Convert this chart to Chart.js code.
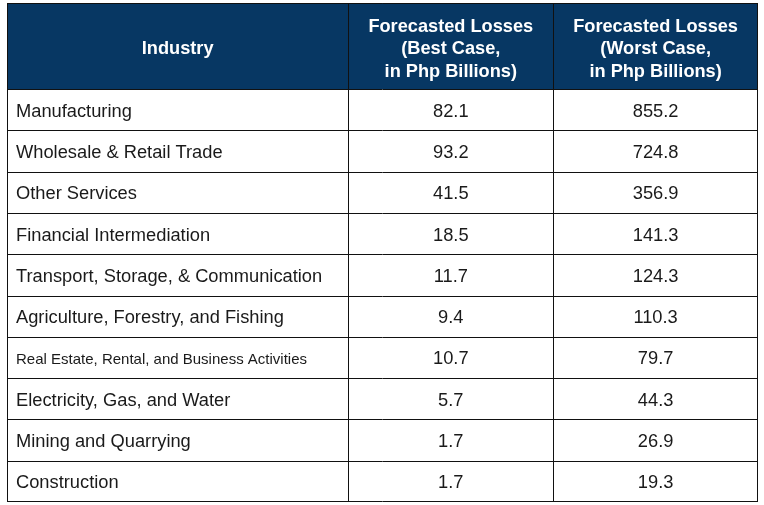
<!DOCTYPE html>
<html>
<head>
<meta charset="utf-8">
<script src="https://cdn.jsdelivr.net/npm/chart.js@4.4.1/dist/chart.umd.min.js"></script>
<style>
  html, body { margin: 0; padding: 0; background: #fff; }
  #wrap { width: 764px; height: 505px; }
</style>
</head>
<body>
<div id="wrap"><canvas id="lossTable"></canvas></div>
<script>
const industries = [
    'Manufacturing',
    'Wholesale & Retail Trade',
    'Other Services',
    'Financial Intermediation',
    'Transport, Storage, & Communication',
    'Agriculture, Forestry, and Fishing',
    'Real Estate, Rental, and Business Activities',
    'Electricity, Gas, and Water',
    'Mining and Quarrying',
    'Construction'
];
const bestCase = [82.1, 93.2, 41.5, 18.5, 11.7, 9.4, 10.7, 5.7, 1.7, 1.7];
const worstCase = [855.2, 724.8, 356.9, 141.3, 124.3, 110.3, 79.7, 44.3, 26.9, 19.3];
const columnHeaders = [
    ['Industry'],
    ['Forecasted Losses', '(Best Case,', 'in Php Billions)'],
    ['Forecasted Losses', '(Worst Case,', 'in Php Billions)']
];

// column edges in x-scale units, first column is wider
const colEdges = [0, 5, 8, 11];
const HEADER_H = 86;
const FONT = "'Liberation Sans', Arial, sans-serif";
const LINE = '#111';

function crisp(v) {
    return Math.round(v) + 0.5;
}

const tablePlugin = {
    id: 'tableCells',
    afterDraw: function (chart) {
        const ctx = chart.ctx,
            area = chart.chartArea,
            x = chart.scales.x,
            y = chart.scales.y,
            band = (area.bottom - area.top) / industries.length,
            headTop = area.top - HEADER_H,
            left = x.getPixelForValue(colEdges[0]),
            right = x.getPixelForValue(colEdges[colEdges.length - 1]);

        ctx.save();

        // header background
        ctx.fillStyle = '#073763';
        ctx.fillRect(left, headTop, right - left, HEADER_H);

        // header text
        ctx.fillStyle = '#fff';
        ctx.font = 'bold 18.2px ' + FONT;
        ctx.textAlign = 'center';
        ctx.textBaseline = 'middle';
        columnHeaders.forEach(function (lines, c) {
            const cx = (x.getPixelForValue(colEdges[c]) + x.getPixelForValue(colEdges[c + 1])) / 2;
            const cy = headTop + HEADER_H / 2 + 3;
            const step = 22.5;
            lines.forEach(function (txt, k) {
                ctx.fillText(txt, cx, cy + (k - (lines.length - 1) / 2) * step);
            });
        });

        // industry names
        ctx.fillStyle = '#1a1a1a';
        ctx.textAlign = 'left';
        const maxW = x.getPixelForValue(colEdges[1]) - left - 18;
        industries.forEach(function (name, i) {
            ctx.font = '18.3px ' + FONT;
            if (ctx.measureText(name).width > maxW) {
                ctx.font = '15px ' + FONT;
            }
            ctx.fillText(name, left + 9, y.getPixelForValue(i) + 2);
        });

        // values, placed by the dataset points
        ctx.font = '18.3px ' + FONT;
        ctx.textAlign = 'center';
        chart.data.datasets.forEach(function (ds, d) {
            const meta = chart.getDatasetMeta(d);
            meta.data.forEach(function (pt, i) {
                ctx.fillText(ds.data[i].v.toFixed(1), pt.x, pt.y + 2);
            });
        });

        // grid lines
        ctx.strokeStyle = LINE;
        ctx.lineWidth = 1;
        ctx.beginPath();
        for (let i = 0; i <= industries.length; i++) {
            const yy = crisp(area.top + i * band - (i === industries.length ? 1 : 0));
            ctx.moveTo(left, yy);
            ctx.lineTo(right, yy);
        }
        ctx.moveTo(left, crisp(headTop));
        ctx.lineTo(right, crisp(headTop));
        colEdges.forEach(function (e, c) {
            const xx = crisp(x.getPixelForValue(e) - (c === colEdges.length - 1 ? 1 : 0));
            ctx.moveTo(xx, headTop);
            ctx.lineTo(xx, area.bottom);
        });
        ctx.stroke();

        ctx.restore();
    }
};

function cellPoints(values, col) {
    const mid = (colEdges[col] + colEdges[col + 1]) / 2;
    return values.map(function (v, i) {
        return {x: mid, y: industries[i], v: v};
    });
}

new Chart(document.getElementById('lossTable'), {
    type: 'scatter',
    data: {
        datasets: [
            {label: 'Best Case', data: cellPoints(bestCase, 1), pointRadius: 0},
            {label: 'Worst Case', data: cellPoints(worstCase, 2), pointRadius: 0}
        ]
    },
    options: {
        responsive: true,
        maintainAspectRatio: false,
        animation: false,
        events: [],
        layout: {
            padding: {left: 7, right: 6, top: 89, bottom: 3}
        },
        plugins: {
            legend: {display: false},
            tooltip: {enabled: false}
        },
        scales: {
            x: {type: 'linear', min: colEdges[0], max: colEdges[colEdges.length - 1], display: false},
            y: {type: 'category', labels: industries, offset: true, display: false}
        }
    },
    plugins: [tablePlugin]
});
</script>
</body>
</html>
